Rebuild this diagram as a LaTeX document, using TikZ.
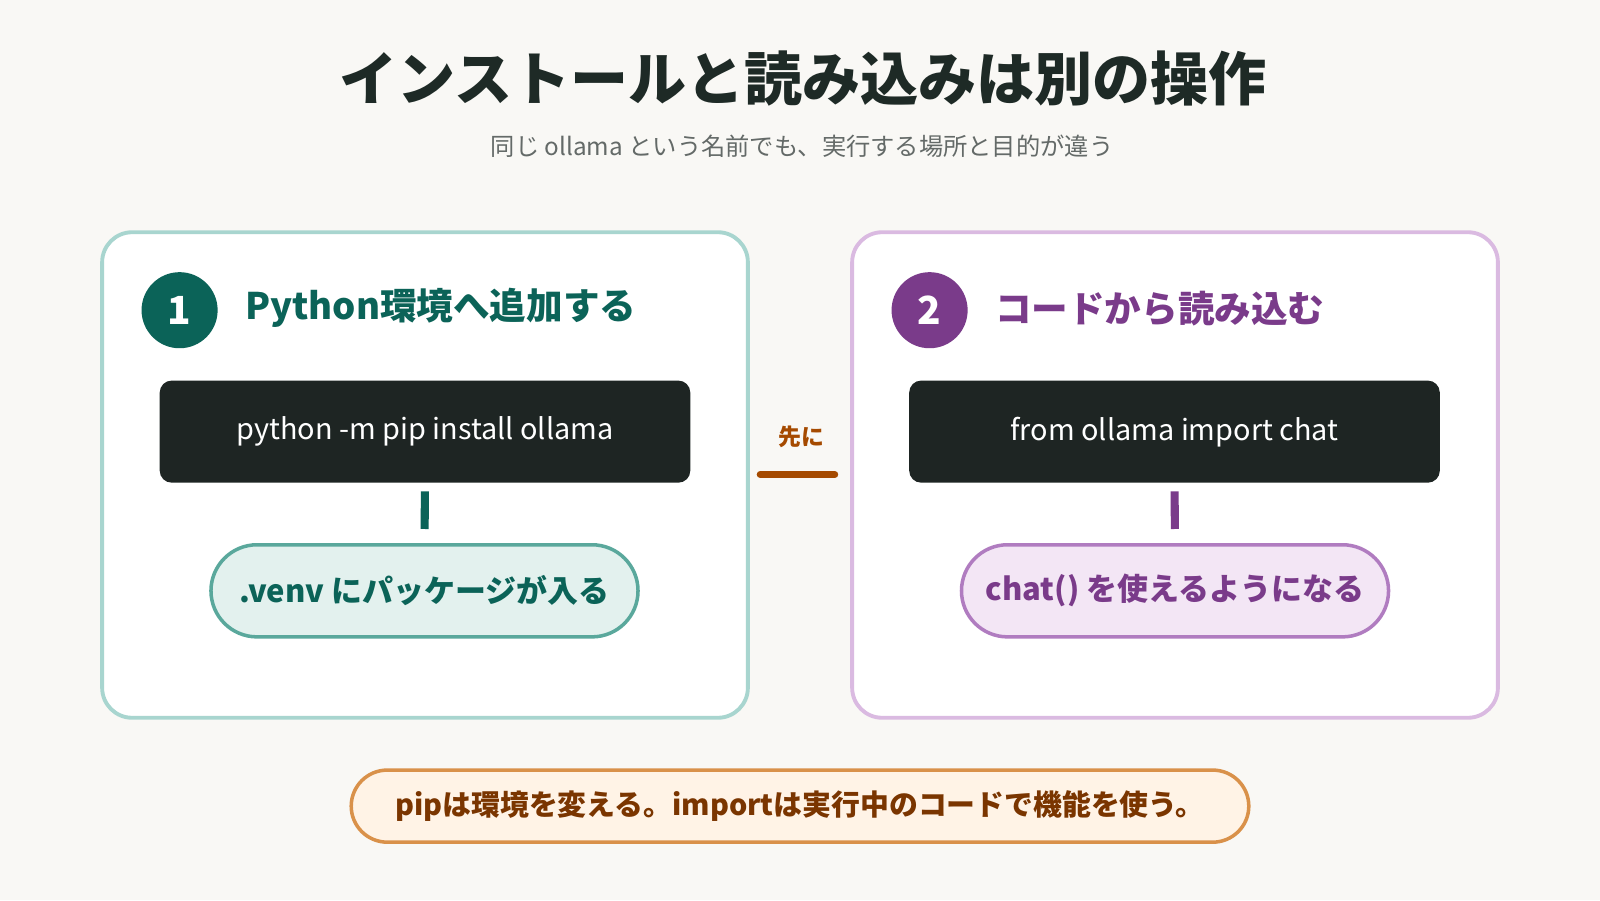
\documentclass[tikz,border=0pt]{standalone}
\usepackage{fontspec}
\setmainfont{Noto Sans CJK JP}
\usetikzlibrary{positioning,shapes.misc}
\definecolor{bgpaper}{RGB}{249,248,245}
\definecolor{inkdark}{RGB}{30,42,38}
\definecolor{greyink}{RGB}{100,106,104}
\definecolor{tealdark}{RGB}{11,99,88}
\definecolor{tealedge}{RGB}{168,213,207}
\definecolor{tealpill}{RGB}{227,241,238}
\definecolor{tealpilledge}{RGB}{90,168,156}
\definecolor{purpdark}{RGB}{122,59,138}
\definecolor{purpedge}{RGB}{218,186,225}
\definecolor{purppill}{RGB}{243,230,245}
\definecolor{purppilledge}{RGB}{176,124,192}
\definecolor{codebox}{RGB}{30,37,35}
\definecolor{rustink}{RGB}{165,74,0}
\definecolor{notefill}{RGB}{255,243,230}
\definecolor{noteedge}{RGB}{217,145,74}
\definecolor{notetext}{RGB}{122,53,0}
\tikzset{
  panel/.style={rectangle, rounded corners=0.3cm, line width=1.1pt, fill=white, minimum width=6.45cm, minimum height=4.85cm},
  badge/.style={circle, minimum size=0.76cm, inner sep=0pt, text=white, font=\bfseries\fontsize{11}{11}\selectfont},
  heading/.style={anchor=west, font=\bfseries\fontsize{10.4}{12}\selectfont},
  cmd/.style={rectangle, rounded corners=0.12cm, fill=codebox, text=white, minimum width=5.3cm, minimum height=1.02cm, font=\fontsize{8.2}{10}\selectfont},
  pill/.style={rounded rectangle, line width=1pt, minimum height=0.92cm, font=\bfseries\fontsize{8.8}{10}\selectfont},
  link/.style={line width=2.3pt, shorten <=0.08cm, shorten >=0.14cm}
}
\begin{document}
\begin{tikzpicture}[x=0.0102cm,y=-0.0102cm]
\useasboundingbox (0,0) rectangle (1568,882);
\fill[bgpaper] (0,0) rectangle (1568,882);
\node (title) [text=inkdark, font=\bfseries\fontsize{16.5}{20}\selectfont] at (787,77) {インストールと読み込みは別の操作};
\node (sub) [text=greyink, font=\fontsize{6.9}{8}\selectfont] at (786,143) {同じ ollama という名前でも、実行する場所と目的が違う};
% left panel
\node (panL) [panel, draw=tealedge] at (416.5,465.5) {};
\node (oneL) [badge, fill=tealdark] at (176,304) {1};
\node (hdL) [heading, text=tealdark] at (228,302) {Python環境へ追加する};
\node (cmdL) [cmd] at (416.5,423) {python -m pip install ollama};
\node (pillL) [pill, fill=tealpill, draw=tealpilledge, text=tealdark, minimum width=4.5cm] at (416,579) {.venv にパッケージが入る};
\draw[link, tealdark] (cmdL.south) -- (pillL.north);
% right panel
\node (panR) [panel, draw=purpedge] at (1151.5,465.5) {};
\node (twoR) [badge, fill=purpdark] at (911,304) {2};
\node (hdR) [heading, text=purpdark] at (963,302) {コードから読み込む};
\node (cmdR) [cmd] at (1151,423) {from ollama import chat};
\node (pillR) [pill, fill=purppill, draw=purppilledge, text=purpdark, minimum width=4.5cm] at (1151.5,579) {chat() を使えるようになる};
\draw[link, purpdark] (cmdR.south) -- (pillR.north);
% between
\node (first) [text=rustink, font=\bfseries\fontsize{6.5}{8}\selectfont] at (785,428) {先に};
\coordinate (midA) at (745,465);
\coordinate (midB) at (818,465);
\draw[rustink, line width=2pt, line cap=round] (midA) -- (midB);
% note
\node (note) [pill, fill=notefill, draw=noteedge, text=notetext, minimum width=9.2cm, minimum height=0.72cm, font=\bfseries\fontsize{8.2}{10}\selectfont] at (784,790) {pipは環境を変える。importは実行中のコードで機能を使う。};
\end{tikzpicture}
\end{document}
